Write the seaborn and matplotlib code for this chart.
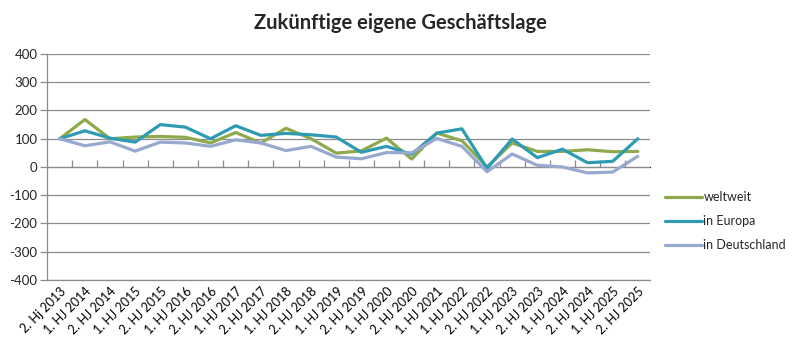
#!/usr/bin/env python3
# Zukünftige eigene Geschäftslage - line chart
import pandas as pd
import numpy as np
import matplotlib
matplotlib.use('Agg')
import matplotlib.pyplot as plt
import seaborn as sns

# data
labels = ['2. Hj 2013', '1. HJ 2014', '2. HJ 2014', '1. HJ 2015', '2. HJ 2015',
          '1. HJ 2016', '2. HJ 2016', '1. HJ 2017', '2. HJ 2017', '1. HJ 2018',
          '2. HJ 2018', '1. HJ 2019', '2. HJ 2019', '1. HJ 2020', '2. HJ 2020',
          '1. HJ 2021', '1. HJ 2022', '2. HJ 2022', '1. HJ 2023', '2. HJ 2023',
          '1. HJ 2024', '2. HJ 2024', '1. HJ 2025', '2. HJ 2025']
weltweit = [100, 168, 100, 106, 108, 105, 85, 122, 85, 137, 100, 49, 57, 102, 28,
            120, 93, 0, 85, 55, 55, 61, 54, 55]
europa = [100, 128, 102, 88, 150, 141, 100, 146, 112, 119, 114, 106, 52, 73, 45,
          120, 135, -5, 99, 33, 63, 15, 20, 100]
deutschland = [100, 75, 89, 56, 88, 85, 73, 96, 85, 58, 73, 35, 29, 51, 50,
               101, 73, -17, 46, 6, 0, -21, -18, 38]
series = ['weltweit', 'in Europa', 'in Deutschland']
colors = ['#8FAA4C', '#2F9BB3', '#98A9D0']

df = pd.DataFrame({
    'x': list(range(len(labels))) * 3,
    'wert': weltweit + europa + deutschland,
    'serie': np.repeat(series, len(labels)),
})

sns.set_style('white')
plt.rcParams['font.family'] = ['Lato', 'DejaVu Sans']
plt.rcParams['axes.unicode_minus'] = False
grey = '#8C8C8C'

fig = plt.figure(figsize=(8, 3.53), dpi=100)
ax = fig.add_axes([0.059, 0.207, 0.754, 0.640])

sns.lineplot(data=df, x='x', y='wert', hue='serie', hue_order=series,
             palette=colors, linewidth=2.3, ax=ax)

ax.set_xlim(-0.5, len(labels) - 0.5)
ax.set_ylim(-400, 400)
ax.set_yticks(range(-400, 401, 100))
ax.yaxis.grid(True, color=grey, linewidth=0.9)
ax.set_axisbelow(True)
ax.set_xlabel('')
ax.set_ylabel('')

ax.set_xticks(range(len(labels)))
ax.set_xticklabels(labels, rotation=45, ha='right', rotation_mode='anchor')
ax.tick_params(axis='x', length=0, pad=4, labelsize=9, colors='black')
ax.tick_params(axis='y', left=True, length=5, width=0.9, color=grey,
               labelsize=9.5, pad=2)

for s in ['top', 'right']:
    ax.spines[s].set_visible(False)
for s in ['left', 'bottom']:
    ax.spines[s].set_color(grey)
    ax.spines[s].set_linewidth(0.9)

# category axis with boundary ticks at y = 0
sec = ax.secondary_xaxis(0.5)
sec.set_xticks(np.arange(0.5, len(labels) - 0.5, 1.0))
sec.tick_params(axis='x', direction='out', length=5, width=0.9, color=grey,
                labelbottom=False, labeltop=False)
sec.spines['bottom'].set_color(grey)
sec.spines['bottom'].set_linewidth(0.9)

leg = ax.legend(loc='center left', bbox_to_anchor=(1.005, 0.26), frameon=False,
                fontsize=9, handlelength=3.0, handletextpad=0.1, labelspacing=0.95)
for h in leg.get_lines():
    h.set_linewidth(2.3)

fig.text(0.5, 0.935, 'Zukünftige eigene Geschäftslage', ha='center', va='center',
         fontsize=14.5, fontweight='bold')

fig.savefig('out.png', dpi=100)
